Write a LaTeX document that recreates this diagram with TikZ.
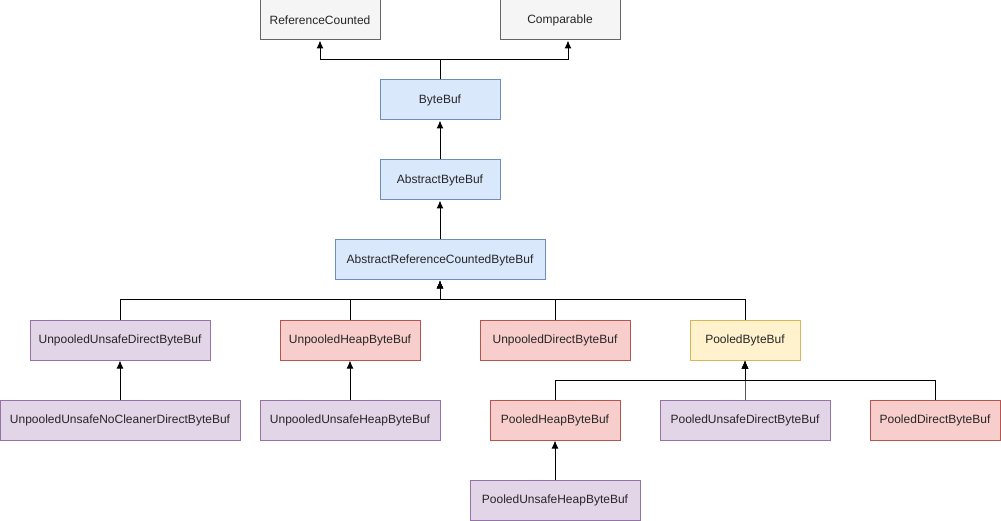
\documentclass[tikz,border=0pt]{standalone}
\usepackage{fontspec}
\setmainfont{Liberation Sans}
\usepackage{tikz}
\usetikzlibrary{arrows.meta,positioning,calc}
\definecolor{grayfill}{HTML}{F5F5F5}
\definecolor{graydraw}{HTML}{666666}
\definecolor{bluefill}{HTML}{DAE8FC}
\definecolor{bluedraw}{HTML}{6C8EBF}
\definecolor{purplefill}{HTML}{E1D5E7}
\definecolor{purpledraw}{HTML}{9673A6}
\definecolor{redfill}{HTML}{F8CECC}
\definecolor{reddraw}{HTML}{B85450}
\definecolor{yellowfill}{HTML}{FFF2CC}
\definecolor{yellowdraw}{HTML}{D6B656}

\begin{document}
\begin{tikzpicture}[x=1pt,y=-1pt,line width=1pt,
  cls/.style={draw,inner sep=0pt,minimum height=40pt,font=\fontsize{12}{14}\selectfont,text=black!85},
  iface/.style={cls,fill=grayfill,draw=graydraw},
  abstr/.style={cls,fill=bluefill,draw=bluedraw},
  unsafe/.style={cls,fill=purplefill,draw=purpledraw},
  plain/.style={cls,fill=redfill,draw=reddraw},
  pooled/.style={cls,fill=yellowfill,draw=yellowdraw},
  arr/.style={-{Latex[length=8pt,width=7pt]}}]
  \useasboundingbox (0,0) rectangle (1001,521);
  % interfaces
  \node[iface,minimum width=120pt] (rc)  at (320,20) {ReferenceCounted};
  \node[iface,minimum width=120pt] (cmp) at (560,20) {Comparable};
  % abstract chain
  \node[abstr,minimum width=120pt] (bytebuf) at (440,100) {ByteBuf};
  \node[abstr,minimum width=120pt] (abb)     at (440,180) {AbstractByteBuf};
  \node[abstr,minimum width=210pt] (arcbb)   at (440,260) {AbstractReferenceCountedByteBuf};
  % second level
  \node[unsafe,minimum width=180pt] (uudbb) at (120,340) {UnpooledUnsafeDirectByteBuf};
  \node[plain,minimum width=140pt]  (uhbb)  at (350,340) {UnpooledHeapByteBuf};
  \node[plain,minimum width=150pt]  (udbb)  at (555,340) {UnpooledDirectByteBuf};
  \node[pooled,minimum width=110pt] (pbb)   at (745,340) {PooledByteBuf};
  % third level
  \node[unsafe,minimum width=240pt] (uuncdbb) at (120,420) {UnpooledUnsafeNoCleanerDirectByteBuf};
  \node[unsafe,minimum width=180pt] (uuhbb)   at (350,420) {UnpooledUnsafeHeapByteBuf};
  \node[plain,minimum width=130pt]  (phbb)    at (555,420) {PooledHeapByteBuf};
  \node[unsafe,minimum width=170pt] (pudbb)   at (745,420) {PooledUnsafeDirectByteBuf};
  \node[plain,minimum width=130pt]  (pdbb)    at (935,420) {PooledDirectByteBuf};
  % fourth level
  \node[unsafe,minimum width=170pt] (puhbb) at (555,500) {PooledUnsafeHeapByteBuf};
  % junctions
  \coordinate (j0) at (440,60);
  \coordinate (j1) at (440,300);
  \coordinate (j2) at (745,380);
  % connectors
  \draw[arr] (bytebuf.north) -- (j0) -| (rc.south);
  \draw[arr] (bytebuf.north) -- (j0) -| ([xshift=8pt]cmp.south);
  \draw[arr] (abb) -- (bytebuf);
  \draw[arr] (arcbb) -- (abb);
  \foreach \n in {uudbb,uhbb,udbb,pbb}
    \draw[arr] (\n.north) |- (j1) -- (arcbb.south);
  \draw[arr] (uuncdbb) -- (uudbb);
  \draw[arr] (uuhbb) -- (uhbb);
  \foreach \n in {phbb,pudbb,pdbb}
    \draw[arr] (\n.north) |- (j2) -- (pbb.south);
  \draw[arr] (puhbb) -- (phbb);
\end{tikzpicture}
\end{document}
